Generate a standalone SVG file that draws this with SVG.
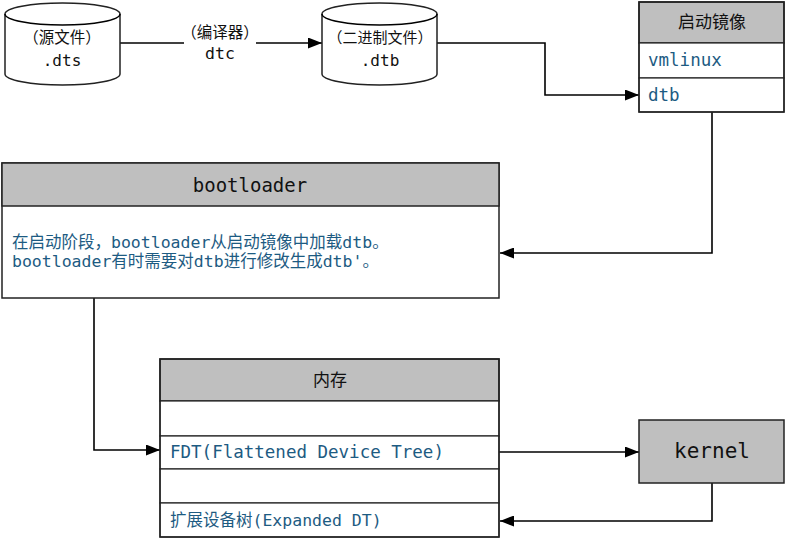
<svg xmlns="http://www.w3.org/2000/svg" width="786" height="539" viewBox="0 0 786 539">
<style>
.box{fill:#fff;stroke:#222;stroke-width:1.5}
.hdr{fill:#bfbfbf;stroke:#222;stroke-width:1.5}
.row{fill:#fff;stroke:#222;stroke-width:1.2}
.t{font-family:"DejaVu Sans Mono","Noto Sans CJK SC",monospace;fill:#111;dominant-baseline:central}
.c{text-anchor:middle}
.b{fill:#1d5b82}
.ln{fill:none;stroke:#000;stroke-width:1.6}
</style>
<defs>
<marker id="arr" viewBox="0 0 14 11" refX="14" refY="5.5" markerWidth="14" markerHeight="11" markerUnits="userSpaceOnUse" orient="auto">
<path d="M0,0 L14,5.5 L0,11 Z" fill="#000"/>
</marker>
</defs>
<rect width="786" height="539" fill="#fff"/>
<g id="connectors">
<path class="ln" d="M120,43 H322" marker-end="url(#arr)"/>
<rect x="184" y="22" width="72" height="42" fill="#fff"/>
<text class="t c" x="220" y="33" font-size="15.5">（编译器）</text>
<text class="t c" x="220" y="53" font-size="16.5">dtc</text>
<path class="ln" d="M437,43 H545 V95 H639" marker-end="url(#arr)"/>
<path class="ln" d="M712,112 V253 H500" marker-end="url(#arr)"/>
<path class="ln" d="M94,298 V450 H160" marker-end="url(#arr)"/>
<path class="ln" d="M499,452 H639" marker-end="url(#arr)"/>
<path class="ln" d="M712,483 V521 H500" marker-end="url(#arr)"/>
</g>
<g id="dts">
<path class="box" d="M5,14 V74 A57.5,11 0 0 0 120,74 V14 A57.5,11 0 0 0 5,14 Z"/>
<path class="ln" style="stroke-width:1.5" d="M5,14 A57.5,11 0 0 0 120,14"/>
<text class="t c" x="62" y="38" font-size="15.5">（源文件）</text>
<text class="t c" x="62" y="60" font-size="16">.dts</text>
</g>
<g id="dtb">
<path class="box" d="M322,14 V74 A57.5,11 0 0 0 437,74 V14 A57.5,11 0 0 0 322,14 Z"/>
<path class="ln" style="stroke-width:1.5" d="M322,14 A57.5,11 0 0 0 437,14"/>
<text class="t c" x="380" y="38" font-size="15">（二进制文件）</text>
<text class="t c" x="380" y="60" font-size="16">.dtb</text>
</g>
<g id="boot-image">
<rect class="hdr" x="639" y="2" width="145" height="41"/>
<text class="t c" x="712" y="22" font-size="17">启动镜像</text>
<rect class="row" x="639" y="43" width="145" height="35"/>
<text class="t b" x="648" y="60" font-size="17.5">vmlinux</text>
<rect class="row" x="639" y="78" width="145" height="34"/>
<text class="t b" x="648" y="95" font-size="17.5">dtb</text>
<rect x="639" y="2" width="145" height="110" fill="none" stroke="#222" stroke-width="1.5"/>
</g>
<g id="bootloader">
<rect class="box" x="2" y="163" width="497" height="135"/>
<rect class="hdr" x="2" y="163" width="497" height="43"/>
<text class="t c" x="250" y="185" font-size="19">bootloader</text>
<text class="t b" x="12" y="242" font-size="16.5">在启动阶段，bootloader从启动镜像中加载dtb。</text>
<text class="t b" x="12" y="261" font-size="16.5">bootloader有时需要对dtb进行修改生成dtb'。</text>
</g>
<g id="memory">
<rect class="hdr" x="160" y="359" width="339" height="42"/>
<text class="t c" x="330" y="380" font-size="17">内存</text>
<rect class="row" x="160" y="401" width="339" height="35"/>
<rect class="row" x="160" y="436" width="339" height="33"/>
<text class="t b" x="170" y="452" font-size="17.5">FDT(Flattened Device Tree)</text>
<rect class="row" x="160" y="469" width="339" height="34"/>
<rect class="row" x="160" y="503" width="339" height="34"/>
<text class="t b" x="170" y="520" font-size="16.5">扩展设备树(Expanded DT)</text>
<rect x="160" y="359" width="339" height="178" fill="none" stroke="#222" stroke-width="1.5"/>
</g>
<g id="kernel">
<rect class="hdr" x="639" y="420" width="145" height="63"/>
<text class="t c" x="712" y="451" font-size="21">kernel</text>
</g>
</svg>
